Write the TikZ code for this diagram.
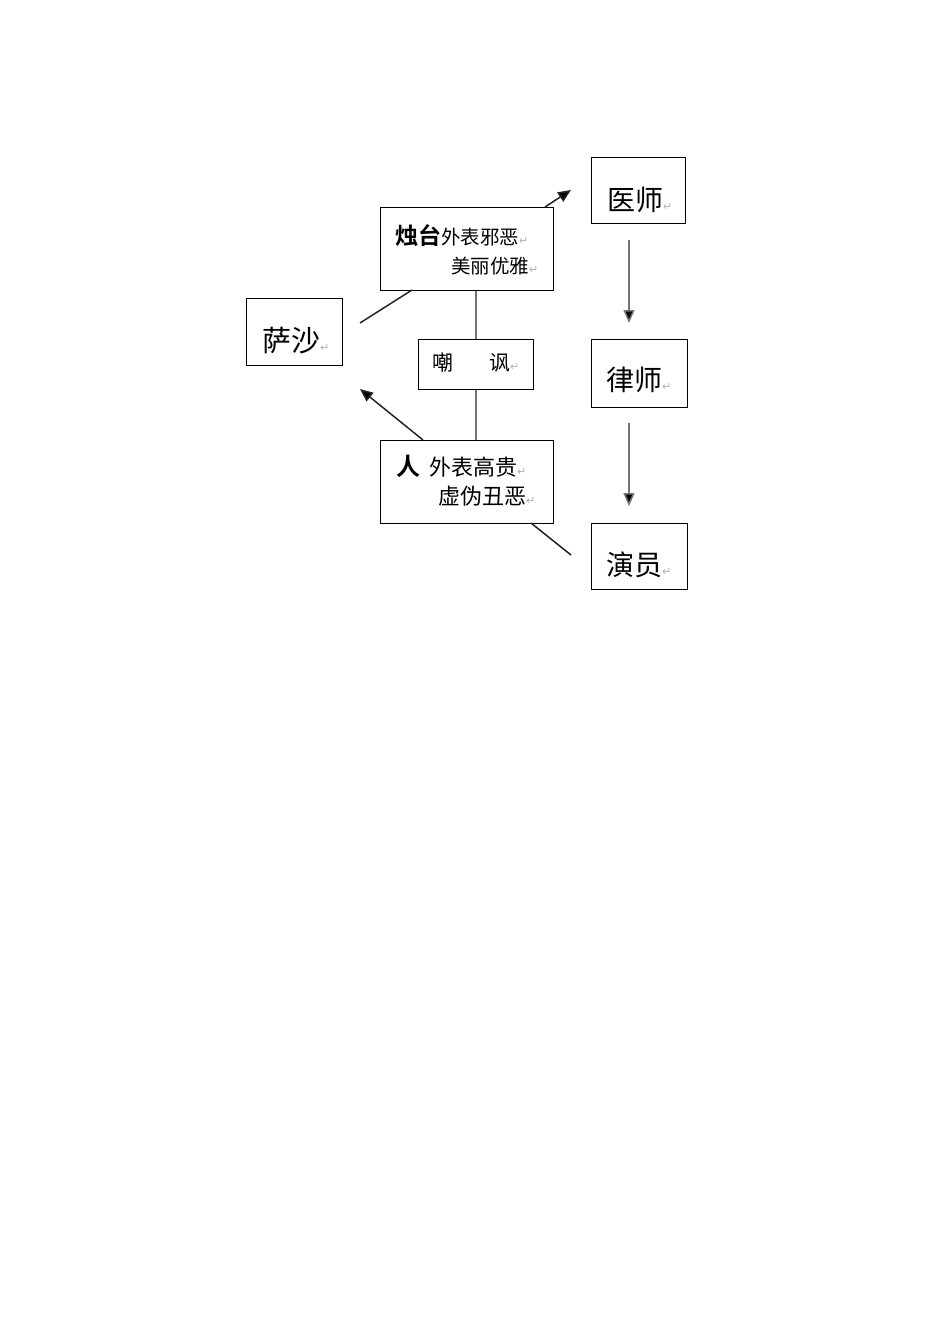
\documentclass[tikz,border=0pt]{standalone}
\usepackage{fontspec}
\usetikzlibrary{arrows.meta}
\newfontfamily\cjk{Noto Sans CJK SC}
\newfontfamily\cjkbold{Noto Sans CJK SC Bold}
\newfontfamily\symfont{DejaVu Sans}
\newcommand\retmark{{\symfont\fontsize{11}{11}\selectfont\color{gray!60}↵}}
\begin{document}
\begin{tikzpicture}[x=1pt,y=-1pt,
  box/.style={draw, line width=1.3pt, inner sep=0pt, anchor=north west},
  txt/.style={inner sep=0pt, font=\cjk},
  gline/.style={draw=black!55, line width=1.5pt},
  dline/.style={draw=black!85, line width=1.5pt},
  arr/.style={-{Triangle[length=13pt,width=11pt,fill=black]}}]
\useasboundingbox[fill=white] (0,0) rectangle (950,1344);
% boxes
\node[box, minimum width=173pt, minimum height=83pt] (zt) at (380,207) {};
\node[box, minimum width=94pt, minimum height=66pt] (ys) at (591,157) {};
\node[box, minimum width=96pt, minimum height=67pt] (ss) at (246,298) {};
\node[box, minimum width=115pt, minimum height=50pt] (cf) at (418,339) {};
\node[box, minimum width=96pt, minimum height=68pt] (ls) at (591,339) {};
\node[box, minimum width=173pt, minimum height=83pt] (ren) at (380,440) {};
\node[box, minimum width=96pt, minimum height=66pt] (yy) at (591,523) {};
% texts
\node[txt, anchor=west] (zt1) at (395,236) {{\cjkbold\fontsize{23}{23}\selectfont 烛台}{\fontsize{19.5}{20}\selectfont 外表邪恶}\retmark};
\node[txt, anchor=west] (zt2) at (451,266) {{\fontsize{19.5}{20}\selectfont 美丽优雅}\retmark};
\node[txt, anchor=west] (ys1) at (607,200) {{\fontsize{28}{28}\selectfont 医师}\retmark};
\node[txt, anchor=west] (ss1) at (262,341) {{\fontsize{29}{29}\selectfont 萨沙}\retmark};
\node[txt, anchor=west] (cf1) at (432,363) {{\fontsize{21}{21}\selectfont 嘲\hspace{36pt}讽}\retmark};
\node[txt, anchor=west] (ls1) at (606,380) {{\fontsize{28}{28}\selectfont 律师}\retmark};
\node[txt, anchor=west] (ren1) at (396,466) {{\cjkbold\fontsize{24}{24}\selectfont 人}\hspace{9pt}{\fontsize{22}{22}\selectfont 外表高贵}\retmark};
\node[txt, anchor=west] (ren2) at (438,496) {{\fontsize{22}{22}\selectfont 虚伪丑恶}\retmark};
\node[txt, anchor=west] (yy1) at (606,565) {{\fontsize{28}{28}\selectfont 演员}\retmark};
% free-end coordinates
\coordinate (a1s) at (545,207);
\coordinate (a1e) at (571,190);
\coordinate (l1s) at (360,323);
\coordinate (l1e) at (412,290);
\coordinate (a2s) at (423,440);
\coordinate (a2e) at (360,389);
\coordinate (l2s) at (531,523);
\coordinate (l2e) at (571,555);
\coordinate (v1s) at (629,240);
\coordinate (v1e) at (629,323);
\coordinate (v2s) at (629,423);
\coordinate (v2e) at (629,506);
% connectors
\draw[dline, arr] (a1s) -- (a1e);
\draw[dline] (l1s) -- (l1e);
\draw[dline, arr] (a2s) -- (a2e);
\draw[dline] (l2s) -- (l2e);
\draw[gline] (cf.north) -- (cf.north |- zt.south);
\draw[gline] (cf.south) -- (cf.south |- ren.north);
\draw[gline, arr] (v1s) -- (v1e);
\draw[gline, arr] (v2s) -- (v2e);
\end{tikzpicture}
\end{document}
